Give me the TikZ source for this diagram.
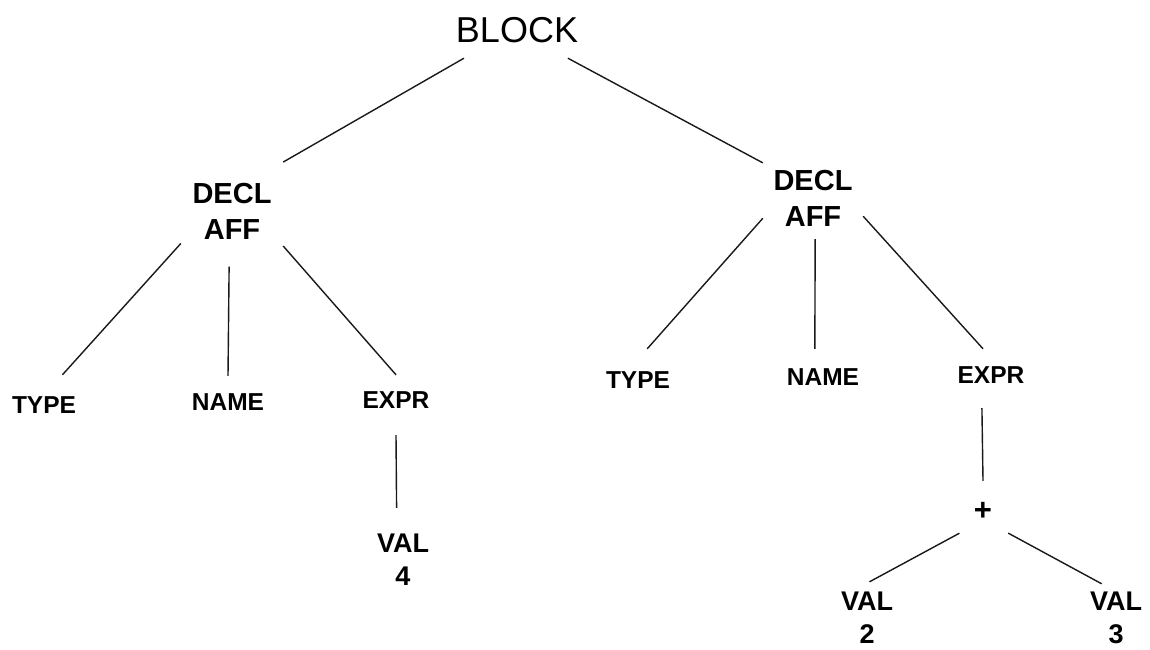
\documentclass[tikz,border=0pt]{standalone}
\usepackage{fontspec}
\setmainfont{Liberation Sans}
\begin{document}
\begin{tikzpicture}[x=1pt,y=-1pt,
  edge/.style={line width=1.4pt, draw=black!90},
  inner/.style={inner sep=0pt, align=center, font=\fontsize{29}{36}\selectfont\bfseries},
  valnode/.style={inner sep=0pt, align=center, minimum width=60pt, font=\fontsize{27}{33}\selectfont\bfseries},
  leaf/.style={inner sep=0pt, anchor=base, minimum width=70pt, font=\fontsize{24.5}{30}\selectfont\bfseries}]
\useasboundingbox (0,0) rectangle (1150,649);

% nodes
\node[inner sep=0pt, minimum width=102pt, minimum height=56pt, font=\fontsize{36}{40}\selectfont] (block) at (517,30) {BLOCK};
\node[inner, minimum width=102pt, minimum height=110pt] (declL) at (232,211.5) {DECL\\AFF};
\node[inner, minimum width=100pt, minimum height=82pt] (declR) at (813,198) {DECL\\AFF};

\node[leaf, text height=38pt, text depth=4pt] (typeL) at (44,413) {TYPE};
\node[leaf, text height=34pt, text depth=4pt] (nameL) at (228,410) {NAME};
\node[leaf, text height=33pt, text depth=27pt] (exprL) at (396,408) {EXPR};

\node[leaf, text height=39pt, text depth=4pt] (typeR) at (638,388) {TYPE};
\node[leaf, text height=36pt, text depth=4pt] (nameR) at (823,385) {NAME};
\node[leaf, text height=34pt, text depth=25pt] (exprR) at (991,383) {EXPR};

\node[valnode, minimum height=104pt] (val4) at (403,560) {VAL\\4};
\node[leaf, minimum width=50pt, text height=39pt, text depth=13pt, font=\fontsize{31}{34}\selectfont\bfseries] (plus) at (983,520) {+};
\node[valnode, minimum height=71pt] (val2) at (867,617.5) {VAL\\2};
\node[valnode, minimum height=67pt] (val3) at (1116,617.5) {VAL\\3};

% connectors
\draw[edge] (block.208) -- (declL.44);
\draw[edge] (block.331) -- (declR.145);
\draw[edge] (declL.212) -- (typeL.49);
\draw[edge] (declL.267) -- (nameL.north);
\draw[edge] (declL.326) -- (exprL.north);
\draw[edge] (declR.202) -- (typeR.67);
\draw[edge] (declR.273) -- (nameR.112);
\draw[edge] (declR.340) -- (exprR.105);
\draw[edge] (exprL.south) -- (val4.97);
\draw[edge] (exprR.253) -- (plus.north);
\draw[edge] (plus.228) -- (val2.86);
\draw[edge] (plus.314) -- (val3.113);
\end{tikzpicture}
\end{document}
